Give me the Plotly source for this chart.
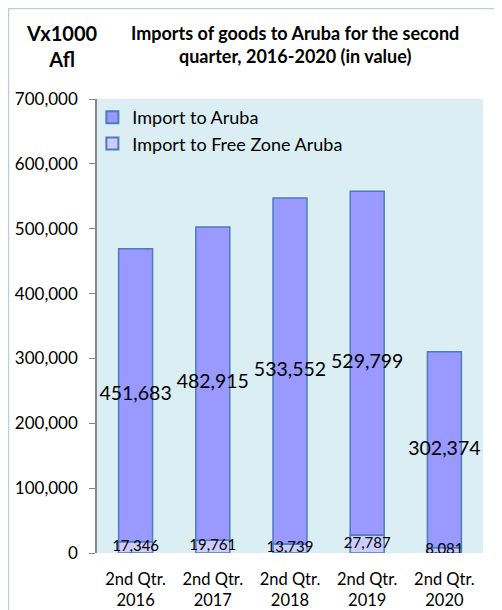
import plotly.graph_objects as go

categories = ["2nd Qtr.<br>2016", "2nd Qtr.<br>2017", "2nd Qtr.<br>2018", "2nd Qtr.<br>2019", "2nd Qtr.<br>2020"]
free_zone = [17346, 19761, 13739, 27787, 8081]
aruba = [451683, 482915, 533552, 529799, 302374]
y_ticks = [0, 100000, 200000, 300000, 400000, 500000, 600000, 700000]

FONT = "Lato, Calibri, Carlito, sans-serif"
edge = dict(color="#4A7EBB", width=1.5)

W, H = 494, 602
ML, MR, MT, MB = 89, 19, 91, 57
PW, PH = W - ML - MR, H - MT - MB

fig = go.Figure()
fig.add_trace(go.Bar(x=categories, y=free_zone, name="Import to Free Zone Aruba",
                     marker=dict(color="#CCCCFF", line=edge), width=0.44,
                     legendrank=2, hoverinfo="skip"))
fig.add_trace(go.Bar(x=categories, y=aruba, base=free_zone, name="Import to Aruba",
                     marker=dict(color="#9999FF", line=edge), width=0.44,
                     legendrank=1, hoverinfo="skip"))

# value labels centered in each segment
fig.add_trace(go.Scatter(x=categories, y=[b + v / 2 for b, v in zip(free_zone, aruba)],
                         text=[f"{v:,}" for v in aruba], mode="text",
                         textfont=dict(size=19.5, color="#000000", family=FONT),
                         showlegend=False, hoverinfo="skip"))
fig.add_trace(go.Scatter(x=categories, y=[v / 2 for v in free_zone],
                         text=[f"{v:,}" for v in free_zone], mode="text",
                         textfont=dict(size=15, color="#000000", family=FONT),
                         showlegend=False, hoverinfo="skip"))

fig.update_layout(
    width=W, height=H,
    margin=dict(l=ML, r=MR, t=MT, b=MB),
    paper_bgcolor="#FFFFFF", plot_bgcolor="#DAEEF3",
    barmode="overlay", bargap=0.56,
    font=dict(family=FONT, color="#000000"),
    showlegend=True,
    legend=dict(x=-0.012, y=1.0, xanchor="left", yanchor="top",
                bgcolor="rgba(0,0,0,0)", font=dict(size=18, family=FONT),
                itemsizing="constant", tracegroupgap=0),
    xaxis=dict(showgrid=False, showline=False, ticks="", tickfont=dict(size=16.5),
               ticklabelstandoff=14, automargin=False, fixedrange=True),
    yaxis=dict(range=[0, 700000], tickvals=y_ticks,
               ticktext=[f"{t:,}" for t in y_ticks], showgrid=False,
               showline=True, linecolor="#868686", linewidth=1.5,
               ticks="outside", ticklen=6, tickcolor="#868686",
               ticklabelstandoff=8, automargin=False,
               tickfont=dict(size=17), zeroline=False, fixedrange=True),
    shapes=[dict(type="rect", xref="paper", yref="paper",
                 x0=-(ML - 0.5) / PW, x1=1 + (MR + 20) / PW,
                 y0=-(MB + 20) / PH, y1=1 + (MT - 0.5) / PH,
                 line=dict(color="#B9CDE5", width=1.5), fillcolor="rgba(0,0,0,0)",
                 layer="below")],
    annotations=[
        dict(text="<b>Imports of goods to Aruba for the second<br>quarter, 2016-2020 (in value)</b>",
             xref="paper", yref="paper", x=(287 - ML) / PW, y=1 + (MT - 12) / PH,
             xanchor="center", yanchor="top",
             showarrow=False, font=dict(size=18, family=FONT), align="center"),
        dict(text="<b>Vx1000<br>Afl</b>", xref="paper", yref="paper",
             x=(54 - ML) / PW, y=1 + (MT - 11) / PH,
             xanchor="center", yanchor="top", showarrow=False,
             font=dict(size=20, family=FONT), align="center"),
    ],
)

fig.write_html("out.html")
